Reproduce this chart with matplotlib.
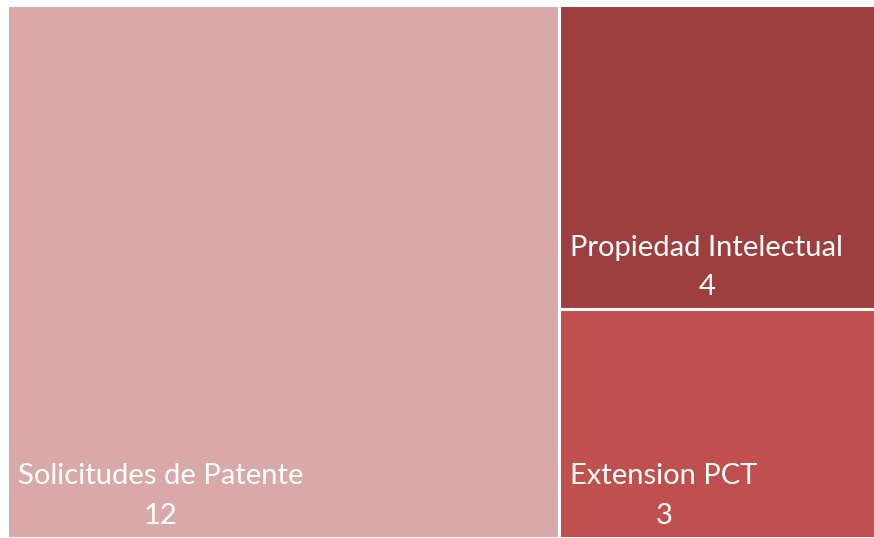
import matplotlib.pyplot as plt
from matplotlib.patches import Rectangle

labels = ["Solicitudes de Patente", "Propiedad Intelectual", "Extension PCT"]
values = [12, 4, 3]
colors = ["#D9A9AA", "#9D3F3E", "#C0504D"]

plt.rcParams['font.family'] = ['Lato', 'DejaVu Sans']

fig = plt.figure(figsize=(8.74, 5.38), dpi=100)
# the chart runs a bit past the right edge of the picture
ax = fig.add_axes([6.5 / 874, 0, 875.5 / 874, 533.5 / 538])
ax.set_xlim(0, 1)
ax.set_ylim(0, 1)
ax.axis('off')

total = sum(values)
# first item gets its own column, the rest stack in the second column
w0 = values[0] / total
rects = [(0, 0, w0, 1)]
rest = sum(values[1:])
top = 1.0
for v in values[1:]:
    h = v / rest
    rects.append((w0, top - h, 1 - w0, h))
    top -= h

for (x, y, w, h), lab, val, c in zip(rects, labels, values, colors):
    ax.add_patch(Rectangle((x, y), w, h, facecolor=c, edgecolor='white', linewidth=2.2))
    ax.annotate(lab + "\n" + str(val), xy=(x, y), xytext=(11, 9),
                textcoords='offset pixels', ha='left', va='bottom',
                multialignment='center', color='white', fontsize=21,
                linespacing=1.65)

fig.savefig("out.png", dpi=100)
